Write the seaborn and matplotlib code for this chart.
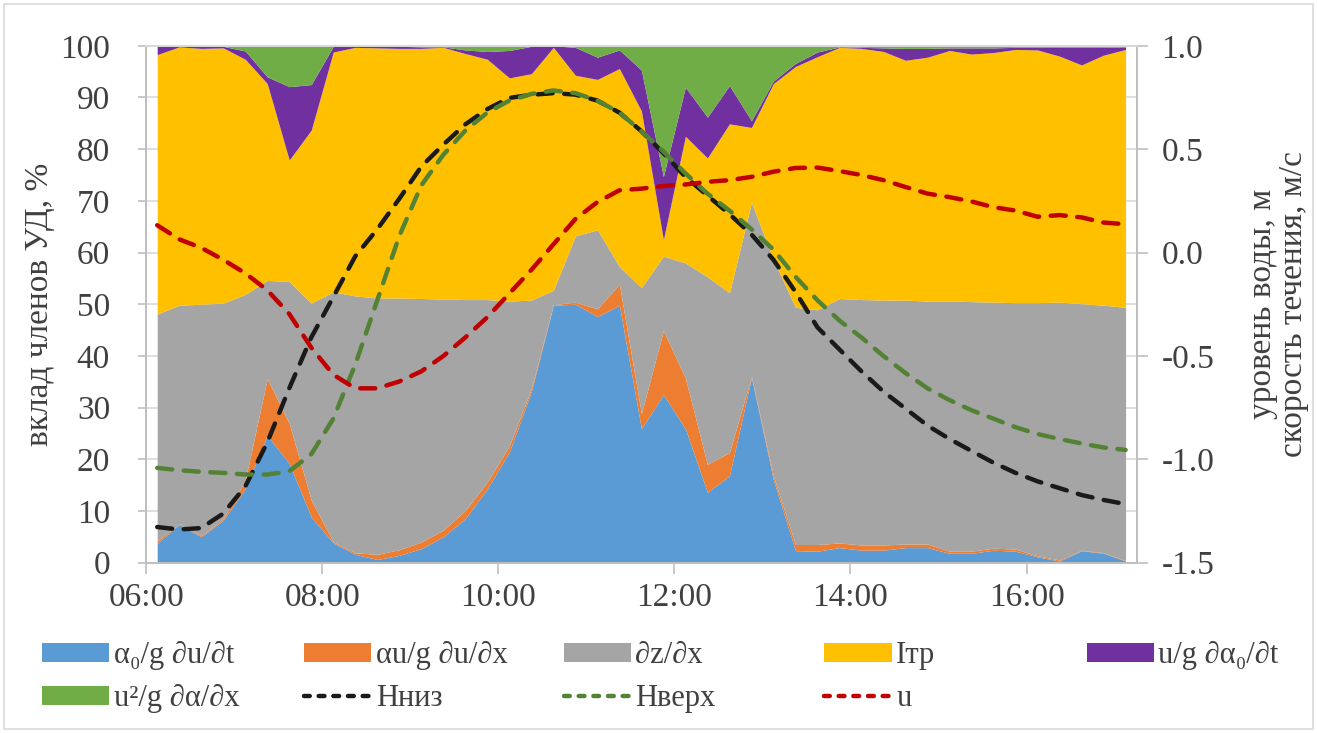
import numpy as np
import pandas as pd
import seaborn as sns
import matplotlib.pyplot as plt
import matplotlib.dates as mdates
from matplotlib.lines import Line2D
from matplotlib.patches import Patch, Rectangle

sns.set_theme(style='white')
plt.rcParams['font.family'] = ['Liberation Serif', 'DejaVu Serif']
plt.rcParams['axes.unicode_minus'] = False

# ---------- data ----------
# 15-min intervals 06:00-17:15, values at the interval midpoints
time = pd.date_range('2000-01-01 06:07:30', periods=45, freq='15min')

# contribution of the terms, %
a0_dudt = [3.7, 7.4, 5.0, 8.2, 14.3, 24.6, 19.2, 8.8, 3.8, 1.6, 0.6, 1.4, 2.7, 5.0, 8.5,
           14.3, 21.4, 33.1, 49.8, 50.0, 47.6, 49.8, 25.9, 32.5, 25.9, 13.6, 16.8, 35.8, 16.0, 2.3,
           2.2, 2.9, 2.4, 2.4, 2.9, 2.9, 1.8, 1.8, 2.4, 2.2, 1.1, 0.3, 2.3, 1.8, 0.3]
au_dudx = [0.5, 0.1, 0.2, 0.3, 1.6, 11.0, 7.7, 3.3, 0.2, 0.3, 1.0, 1.1, 1.3, 1.3, 1.6,
           1.3, 1.2, 0.6, 0.1, 0.4, 1.5, 4.1, 2.9, 12.4, 9.8, 5.4, 4.5, 0.2, 0.7, 1.2,
           1.3, 0.9, 1.0, 1.0, 0.7, 0.7, 0.4, 0.4, 0.4, 0.4, 0.2, 0.2, 0.1, 0.1, 0.1]
dzdx = [43.9, 42.3, 44.8, 41.7, 36.0, 19.0, 27.5, 38.1, 48.4, 49.7, 49.6, 48.7, 47.1, 44.7, 40.8,
        35.3, 28.0, 17.1, 2.8, 12.8, 15.3, 3.4, 24.4, 14.4, 22.3, 36.3, 30.9, 33.7, 41.9, 45.9,
        45.4, 47.3, 47.5, 47.4, 47.2, 47.0, 48.4, 48.3, 47.6, 47.7, 49.0, 49.9, 47.7, 47.9, 49.0]
i_tr = [50.2, 50.0, 49.5, 49.4, 45.5, 38.1, 23.5, 33.5, 46.4, 48.1, 48.4, 48.3, 48.4, 48.7, 47.6,
        46.5, 43.2, 43.8, 47.0, 31.1, 29.1, 38.3, 34.2, 3.2, 24.5, 23.0, 32.7, 14.5, 34.1, 46.6,
        49.0, 48.6, 48.6, 48.1, 46.4, 47.2, 48.5, 47.9, 48.3, 49.0, 48.9, 47.6, 46.2, 48.4, 49.9]
u_da0dt = [1.7, 0.2, 0.5, 0.3, 1.6, 1.3, 14.2, 8.8, 1.1, 0.3, 0.4, 0.4, 0.3, 0.1, 0.7,
           1.5, 5.3, 5.3, 0.3, 5.4, 4.3, 3.6, 7.9, 12.2, 9.5, 7.9, 7.4, 1.3, 0.5, 0.6,
           0.9, 0.1, 0.2, 0.7, 2.3, 1.7, 0.5, 1.2, 0.9, 0.4, 0.5, 1.7, 3.4, 1.5, 0.5]
u2_dadx = [0.0, 0.0, 0.0, 0.1, 1.0, 6.0, 7.9, 7.5, 0.1, 0.0, 0.0, 0.1, 0.2, 0.2, 0.8,
           1.1, 0.9, 0.1, 0.0, 0.3, 2.2, 0.8, 4.7, 25.3, 8.0, 13.8, 7.7, 14.5, 6.8, 3.4,
           1.2, 0.2, 0.3, 0.4, 0.5, 0.5, 0.4, 0.4, 0.4, 0.3, 0.3, 0.3, 0.3, 0.3, 0.2]

# water level (m) and velocity (m/s)
h_low = [-1.328, -1.340, -1.333, -1.263, -1.132, -0.919, -0.657, -0.411, -0.215, -0.018, 0.113,
         0.260, 0.416, 0.522, 0.620, 0.694, 0.748, 0.763, 0.771, 0.764, 0.735, 0.677, 0.587,
         0.481, 0.366, 0.276, 0.186, 0.088, -0.035, -0.190, -0.362, -0.469, -0.575, -0.673,
         -0.755, -0.837, -0.902, -0.960, -1.017, -1.066, -1.107, -1.140, -1.173, -1.197, -1.217]
h_up = [-1.042, -1.053, -1.061, -1.066, -1.074, -1.074, -1.058, -0.976, -0.804, -0.542, -0.231,
        0.080, 0.325, 0.473, 0.590, 0.677, 0.735, 0.767, 0.784, 0.771, 0.735, 0.677, 0.587,
        0.489, 0.383, 0.285, 0.203, 0.113, 0.014, -0.117, -0.231, -0.329, -0.411, -0.501,
        -0.583, -0.657, -0.714, -0.763, -0.804, -0.845, -0.878, -0.902, -0.924, -0.943, -0.955]
u = [0.132, 0.064, 0.023, -0.035, -0.100, -0.182, -0.297, -0.460, -0.591, -0.657, -0.657,
     -0.624, -0.575, -0.501, -0.411, -0.313, -0.198, -0.084, 0.039, 0.162, 0.244, 0.301, 0.309,
     0.322, 0.329, 0.342, 0.350, 0.366, 0.391, 0.409, 0.411, 0.394, 0.375, 0.350, 0.317,
     0.285, 0.268, 0.247, 0.219, 0.203, 0.173, 0.181, 0.170, 0.145, 0.137]

area_labels = ['α₀/g ∂u/∂t', 'αu/g ∂u/∂x', '∂z/∂x', 'Iтр', 'u/g ∂α₀/∂t', 'u²/g ∂α/∂x']
area_colors = ['#5B9BD5', '#ED7D31', '#A5A5A5', '#FFC000', '#7030A0', '#70AD47']
line_labels = ['Нниз', 'Нверх', 'u']
line_colors = ['#1A1A1A', '#548235', '#C00000']

# ---------- plot ----------
fig = plt.figure(figsize=(13.17, 7.33), dpi=100)
ax = fig.add_axes([0.111, 0.2325, 0.752, 0.705])

ax.stackplot(time, a0_dudt, au_dudx, dzdx, i_tr, u_da0dt, u2_dadx,
             colors=area_colors, linewidth=0, zorder=2)

ax.set_xlim(pd.Timestamp('2000-01-01 06:00'), pd.Timestamp('2000-01-01 17:15'))
ax.set_ylim(0, 100)
ax.set_yticks(range(0, 101, 10))
ax.xaxis.set_major_locator(mdates.HourLocator(byhour=range(6, 17, 2)))
ax.xaxis.set_major_formatter(mdates.DateFormatter('%H:%M'))
ax.grid(axis='y', color='#D9D9D9', lw=1.2, zorder=0)
ax.grid(axis='x', visible=False)
ax.set_axisbelow(True)
ax.set_ylabel('вклад членов УД, %', fontsize=24, color='#404040', labelpad=4)

ax2 = ax.twinx()
dash = (0, (3.4, 2.6))
for vals, col in zip([h_low, h_up, u], line_colors):
    sns.lineplot(x=time, y=vals, ax=ax2, color=col, linewidth=3.2, linestyle=dash,
                 dash_capstyle='round', zorder=5)
ax2.set_ylim(-1.5, 1.0)
ax2.set_yticks(np.arange(-1.5, 1.01, 0.5))
ax2.yaxis.set_major_formatter(plt.FormatStrFormatter('%.1f'))
ax2.set_ylabel('уровень воды, м\nскорость течения, м/с', fontsize=24, color='#404040',
               linespacing=1.0, labelpad=24)
ax2.grid(False)

for a in (ax, ax2):
    for s in a.spines.values():
        s.set_color('#BFBFBF')
        s.set_linewidth(1.3)
    a.spines['top'].set_color('#D9D9D9')
ax.tick_params(axis='both', labelsize=24, colors='#404040', length=6, width=1.2,
               direction='out', left=True, bottom=True)
ax.tick_params(axis='y', pad=20, color='#BFBFBF')
ax.tick_params(axis='x', pad=6, length=8, color='#BFBFBF')
ax2.tick_params(axis='y', labelsize=24, colors='#404040', length=8, width=1.2,
                direction='out', right=True, pad=10)
ax2.tick_params(axis='y', color='#BFBFBF')

# ---------- legend (5 equal columns, 2 rows) ----------
handles = [Patch(facecolor=c, edgecolor='none') for c in area_colors]
handles += [Line2D([], [], color=c, lw=3.2, linestyle=(0, (1.3, 2.0)), dash_capstyle='round')
            for c in line_colors]
labels = area_labels + line_labels
col_x = [0.032, 0.231, 0.428, 0.626, 0.825]
for j, x0 in enumerate(col_x):
    idx = [j, j + 5] if j + 5 < len(labels) else [j]
    fig.legend([handles[k] for k in idx], [labels[k] for k in idx],
               loc='upper left', bbox_to_anchor=(x0, 0.125), frameon=False,
               fontsize=22, handlelength=2.2, handleheight=0.6, handletextpad=0.15,
               labelspacing=0.45, borderpad=0, borderaxespad=0, labelcolor='#404040')

fig.add_artist(Rectangle((0.003, 0.005), 0.994, 0.99, transform=fig.transFigure,
                         fill=False, edgecolor='#D9D9D9', lw=1.2))

fig.savefig('out.png', dpi=100)
